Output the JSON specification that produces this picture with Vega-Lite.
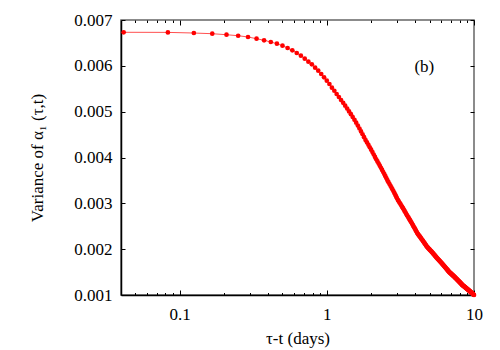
{
  "$schema": "https://vega.github.io/schema/vega-lite/v6.json",
  "width": 353,
  "height": 275,
  "autosize": "none",
  "padding": {"left": 121, "top": 20, "right": 26, "bottom": 55},
  "background": "white",
  "config": {
    "view": {"stroke": "#666666", "strokeWidth": 1.5},
    "axis": {"labelFont": "Liberation Serif", "titleFont": "Liberation Serif", "labelFontSize": 17, "titleFontSize": 17, "titleFontWeight": "normal", "labelColor": "black", "titleColor": "black", "grid": false, "domainColor": "black", "domainWidth": 1.5, "tickColor": "black", "tickWidth": 1}
  },
  "datasets": {
    "curve": [
{"x":0.0417,"y":0.006732},{"x":0.0833,"y":0.00673},{"x":0.125,"y":0.006716},{"x":0.1667,"y":0.006701},{"x":0.2083,"y":0.006679},{"x":0.25,"y":0.006657},{"x":0.2917,"y":0.006629},{"x":0.3333,"y":0.006592},{"x":0.375,"y":0.006557},{"x":0.4167,"y":0.00652},{"x":0.4583,"y":0.006483},{"x":0.5,"y":0.006439},{"x":0.5417,"y":0.006389},{"x":0.5833,"y":0.006339},{"x":0.625,"y":0.00628},{"x":0.6667,"y":0.006221},{"x":0.7083,"y":0.006156},{"x":0.75,"y":0.00609},{"x":0.7917,"y":0.006033},{"x":0.8333,"y":0.005959},{"x":0.875,"y":0.005894},{"x":0.9167,"y":0.005822},{"x":0.9583,"y":0.00575},{"x":1,"y":0.005676},
{"x":1.0417,"y":0.005604},{"x":1.0833,"y":0.005523},{"x":1.125,"y":0.005457},{"x":1.1667,"y":0.005385},{"x":1.2083,"y":0.00532},{"x":1.25,"y":0.005254},{"x":1.2917,"y":0.005192},{"x":1.3333,"y":0.00513},{"x":1.375,"y":0.005068},{"x":1.4167,"y":0.005006},{"x":1.4583,"y":0.004945},{"x":1.5,"y":0.004883},{"x":1.5417,"y":0.004821},{"x":1.5833,"y":0.004759},{"x":1.625,"y":0.004696},{"x":1.6667,"y":0.004633},{"x":1.7083,"y":0.00457},{"x":1.75,"y":0.004507},{"x":1.7917,"y":0.004444},{"x":1.8333,"y":0.004381},{"x":1.875,"y":0.004328},{"x":1.9167,"y":0.004276},{"x":1.9583,"y":0.004223},{"x":2,"y":0.004171},
{"x":2.0417,"y":0.004118},{"x":2.0833,"y":0.004065},{"x":2.125,"y":0.004013},{"x":2.1667,"y":0.00396},{"x":2.2083,"y":0.003914},{"x":2.25,"y":0.003868},{"x":2.2917,"y":0.003822},{"x":2.3333,"y":0.003776},{"x":2.375,"y":0.00373},{"x":2.4167,"y":0.003684},{"x":2.4583,"y":0.003638},{"x":2.5,"y":0.003592},{"x":2.5417,"y":0.003546},{"x":2.5833,"y":0.0035},{"x":2.625,"y":0.003461},{"x":2.6667,"y":0.003422},{"x":2.7083,"y":0.003383},{"x":2.75,"y":0.003344},{"x":2.7917,"y":0.003305},{"x":2.8333,"y":0.003267},{"x":2.875,"y":0.003228},{"x":2.9167,"y":0.003189},{"x":2.9583,"y":0.00315},{"x":3,"y":0.003111},
{"x":3.0417,"y":0.003072},{"x":3.0833,"y":0.003042},{"x":3.125,"y":0.003013},{"x":3.1667,"y":0.002983},{"x":3.2083,"y":0.002953},{"x":3.25,"y":0.002923},{"x":3.2917,"y":0.002894},{"x":3.3333,"y":0.002864},{"x":3.375,"y":0.002834},{"x":3.4167,"y":0.002804},{"x":3.4583,"y":0.002775},{"x":3.5,"y":0.002745},{"x":3.5417,"y":0.002718},{"x":3.5833,"y":0.002692},{"x":3.625,"y":0.002665},{"x":3.6667,"y":0.002638},{"x":3.7083,"y":0.002612},{"x":3.75,"y":0.002585},{"x":3.7917,"y":0.002558},{"x":3.8333,"y":0.002532},{"x":3.875,"y":0.002505},{"x":3.9167,"y":0.002478},{"x":3.9583,"y":0.002452},{"x":4,"y":0.002425},
{"x":4.0417,"y":0.002398},{"x":4.0833,"y":0.002372},{"x":4.125,"y":0.002345},{"x":4.1667,"y":0.002327},{"x":4.2083,"y":0.002308},{"x":4.25,"y":0.00229},{"x":4.2917,"y":0.002272},{"x":4.3333,"y":0.002254},{"x":4.375,"y":0.002235},{"x":4.4167,"y":0.002217},{"x":4.4583,"y":0.002199},{"x":4.5,"y":0.00218},{"x":4.5417,"y":0.002162},{"x":4.5833,"y":0.002144},{"x":4.625,"y":0.002126},{"x":4.6667,"y":0.002107},{"x":4.7083,"y":0.002089},{"x":4.75,"y":0.002071},{"x":4.7917,"y":0.002053},{"x":4.8333,"y":0.00204},{"x":4.875,"y":0.002028},{"x":4.9167,"y":0.002015},{"x":4.9583,"y":0.002002},{"x":5,"y":0.00199},
{"x":5.0417,"y":0.001977},{"x":5.0833,"y":0.001964},{"x":5.125,"y":0.001952},{"x":5.1667,"y":0.001939},{"x":5.2083,"y":0.001926},{"x":5.25,"y":0.001914},{"x":5.2917,"y":0.001901},{"x":5.3333,"y":0.001888},{"x":5.375,"y":0.001876},{"x":5.4167,"y":0.001863},{"x":5.4583,"y":0.001851},{"x":5.5,"y":0.001838},{"x":5.5417,"y":0.001825},{"x":5.5833,"y":0.001813},{"x":5.625,"y":0.0018},{"x":5.6667,"y":0.001789},{"x":5.7083,"y":0.001778},{"x":5.75,"y":0.001768},{"x":5.7917,"y":0.001757},{"x":5.8333,"y":0.001746},{"x":5.875,"y":0.001735},{"x":5.9167,"y":0.001724},{"x":5.9583,"y":0.001714},{"x":6,"y":0.001703},
{"x":6.0417,"y":0.001692},{"x":6.0833,"y":0.001681},{"x":6.125,"y":0.00167},{"x":6.1667,"y":0.00166},{"x":6.2083,"y":0.001649},{"x":6.25,"y":0.001638},{"x":6.2917,"y":0.001627},{"x":6.3333,"y":0.001616},{"x":6.375,"y":0.001606},{"x":6.4167,"y":0.001595},{"x":6.4583,"y":0.001584},{"x":6.5,"y":0.001573},{"x":6.5417,"y":0.001562},{"x":6.5833,"y":0.001552},{"x":6.625,"y":0.001541},{"x":6.6667,"y":0.00153},{"x":6.7083,"y":0.001519},{"x":6.75,"y":0.001508},{"x":6.7917,"y":0.0015},{"x":6.8333,"y":0.001493},{"x":6.875,"y":0.001485},{"x":6.9167,"y":0.001477},{"x":6.9583,"y":0.00147},{"x":7,"y":0.001462},
{"x":7.0417,"y":0.001455},{"x":7.0833,"y":0.001447},{"x":7.125,"y":0.001439},{"x":7.1667,"y":0.001432},{"x":7.2083,"y":0.001424},{"x":7.25,"y":0.001416},{"x":7.2917,"y":0.001409},{"x":7.3333,"y":0.001401},{"x":7.375,"y":0.001394},{"x":7.4167,"y":0.001386},{"x":7.4583,"y":0.001378},{"x":7.5,"y":0.001371},{"x":7.5417,"y":0.001363},{"x":7.5833,"y":0.001355},{"x":7.625,"y":0.001348},{"x":7.6667,"y":0.00134},{"x":7.7083,"y":0.001332},{"x":7.75,"y":0.001325},{"x":7.7917,"y":0.001317},{"x":7.8333,"y":0.00131},{"x":7.875,"y":0.001302},{"x":7.9167,"y":0.001294},{"x":7.9583,"y":0.001287},{"x":8,"y":0.001279},
{"x":8.0417,"y":0.001271},{"x":8.0833,"y":0.001264},{"x":8.125,"y":0.001256},{"x":8.1667,"y":0.001249},{"x":8.2083,"y":0.001241},{"x":8.25,"y":0.001233},{"x":8.2917,"y":0.001226},{"x":8.3333,"y":0.001218},{"x":8.375,"y":0.001213},{"x":8.4167,"y":0.001207},{"x":8.4583,"y":0.001202},{"x":8.5,"y":0.001196},{"x":8.5417,"y":0.001191},{"x":8.5833,"y":0.001185},{"x":8.625,"y":0.00118},{"x":8.6667,"y":0.001174},{"x":8.7083,"y":0.001169},{"x":8.75,"y":0.001164},{"x":8.7917,"y":0.001158},{"x":8.8333,"y":0.001153},{"x":8.875,"y":0.001147},{"x":8.9167,"y":0.001142},{"x":8.9583,"y":0.001136},{"x":9,"y":0.001131},
{"x":9.0417,"y":0.001125},{"x":9.0833,"y":0.00112},{"x":9.125,"y":0.001114},{"x":9.1667,"y":0.001109},{"x":9.2083,"y":0.001104},{"x":9.25,"y":0.001098},{"x":9.2917,"y":0.001093},{"x":9.3333,"y":0.001087},{"x":9.375,"y":0.001082},{"x":9.4167,"y":0.001076},{"x":9.4583,"y":0.001071},{"x":9.5,"y":0.001065},{"x":9.5417,"y":0.00106},{"x":9.5833,"y":0.001055},{"x":9.625,"y":0.001049},{"x":9.6667,"y":0.001044},{"x":9.7083,"y":0.001038},{"x":9.75,"y":0.001033},{"x":9.7917,"y":0.001027},{"x":9.8333,"y":0.001022},{"x":9.875,"y":0.001016},{"x":9.9167,"y":0.001011},{"x":9.9583,"y":0.001005},{"x":10,"y":0.001}
    ],
    "label": [{"x": 4.6, "y": 0.00597, "text": "(b)"}]
  },
  "resolve": {"axis": {"x": "independent", "y": "independent"}},
  "layer": [
    {
      "data": {"name": "curve"},
      "mark": {"type": "line", "color": "#ff5050", "strokeWidth": 1, "clip": false},
      "encoding": {
        "x": {"field": "x", "type": "quantitative",
          "scale": {"type": "log", "domain": [0.04, 10], "nice": false},
          "axis": {"orient": "bottom", "title": "τ-t (days)", "titlePadding": 6,
            "values": [0.05,0.06,0.07,0.08,0.09,0.1,0.2,0.3,0.4,0.5,0.6,0.7,0.8,0.9,1,2,3,4,5,6,7,8,9,10],
            "labelExpr": "datum.value == 0.1 ? '0.1' : datum.value == 1 ? '1' : datum.value == 10 ? '10' : ''",
            "tickSize": {"condition": {"test": "datum.value == 0.1 || datum.value == 1 || datum.value == 10", "value": -5}, "value": -2.5},
            "labelPadding": 16, "labelFlush": false, "labelOverlap": false}},
        "y": {"field": "y", "type": "quantitative",
          "scale": {"domain": [0.001, 0.007], "nice": false, "zero": false},
          "axis": {"orient": "left", "title": "Variance of α₁ (τ,t)", "titlePadding": 27,
            "values": [0.001,0.002,0.003,0.004,0.005,0.006,0.007], "format": ".3f",
            "tickSize": -4, "labelPadding": 13, "labelFlush": false}}
      }
    },
    {
      "data": {"name": "curve"},
      "mark": {"type": "circle", "color": "#ff0000", "opacity": 1, "size": 22, "clip": false},
      "encoding": {
        "x": {"field": "x", "type": "quantitative",
          "axis": {"orient": "top", "title": null, "labels": false, "domain": false,
            "values": [0.05,0.06,0.07,0.08,0.09,0.1,0.2,0.3,0.4,0.5,0.6,0.7,0.8,0.9,1,2,3,4,5,6,7,8,9,10],
            "tickSize": {"condition": {"test": "datum.value == 0.1 || datum.value == 1 || datum.value == 10", "value": -5}, "value": -2.5}}},
        "y": {"field": "y", "type": "quantitative",
          "axis": {"orient": "right", "title": null, "labels": false, "domain": false,
            "values": [0.001,0.002,0.003,0.004,0.005,0.006,0.007], "tickSize": -4}}
      }
    },
    {
      "data": {"name": "label"},
      "mark": {"type": "text", "font": "Liberation Serif", "fontSize": 17, "color": "black", "align": "center", "baseline": "middle"},
      "encoding": {
        "x": {"field": "x", "type": "quantitative", "axis": null},
        "y": {"field": "y", "type": "quantitative", "axis": null},
        "text": {"field": "text"}
      }
    }
  ]
}
